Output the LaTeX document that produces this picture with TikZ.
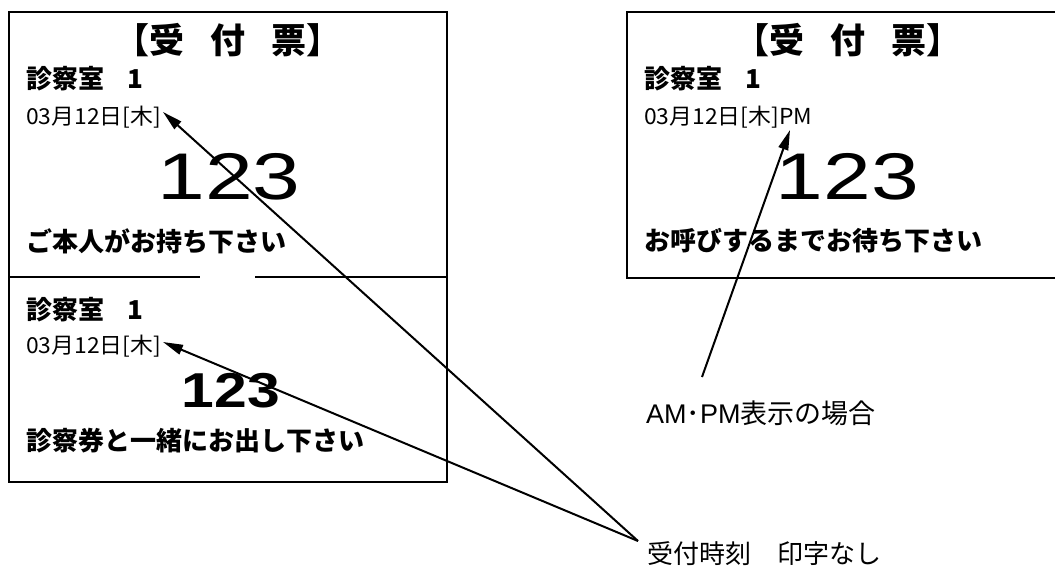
\documentclass[tikz,border=0pt]{standalone}
\usepackage{fontspec}
\usetikzlibrary{arrows.meta}
\newfontfamily\jp{Noto Sans CJK JP}
\newfontfamily\arialf{Liberation Sans}
\tikzset{
  frame/.style={line width=2pt},
  txt/.style={inner sep=0pt, anchor=west, font=\jp\fontsize{26}{30}\selectfont},
  lbl/.style={txt, font=\jp\fontsize{27}{30}\selectfont},
  txtb/.style={txt, font=\jp\bfseries\fontsize{26}{30}\selectfont},
  datetxt/.style={txt, font=\jp\fontsize{22}{25}\selectfont},
  titletxt/.style={inner sep=0pt, font=\jp\bfseries\fontsize{35}{38}\selectfont},
  bignum/.style={inner sep=0pt, font=\arialf\fontsize{66}{70}\selectfont},
  midnum/.style={inner sep=0pt, font=\arialf\bfseries\fontsize{49}{52}\selectfont},
  pointer/.style={line width=2pt, -{Triangle[length=20pt,width=10pt]}},
}
\newcommand\tgap{\hspace{0.75em}}
\begin{document}
\begin{tikzpicture}[x=1pt,y=-1pt]
\useasboundingbox (0,0) rectangle (1055,568);
% left ticket
\draw[frame] (8.5,11.5) rectangle (447,481.5);
\draw[frame] (8.5,277) -- (200,277);
\draw[frame] (255,277) -- (447,277);
% right ticket (cut at right edge)
\draw[frame] (1056,11.5) -- (627,11.5) -- (627,278) -- (1056,278);

% left upper part
\node[titletxt] (lt) at (228,40) {【受\tgap 付\tgap 票】};
\node[txtb] (lr) at (26,79) {診察室\hspace{0.9em}1};
\node[datetxt] (ld) at (26,117) {\scalebox{1.04}[1]{03月12日[木]}};
\node[bignum] (ln) at (229,177) {\scalebox{1.3}[1]{123}};
\node[txtb] (lm) at (26,241) {ご本人がお持ち下さい};
% left lower part
\node[txtb] (lr2) at (26,310) {診察室\hspace{0.9em}1};
\node[datetxt] (ld2) at (26,346) {\scalebox{1.04}[1]{03月12日[木]}};
\node[midnum] (ln2) at (231,391) {\scalebox{1.2}[1]{123}};
\node[txtb] (lm2) at (26,441) {診察券と一緒にお出し下さい};

% right ticket
\node[titletxt] (rt) at (848,40) {【受\tgap 付\tgap 票】};
\node[txtb] (rr) at (644,79) {診察室\hspace{0.9em}1};
\node[datetxt] (rd) at (644,117) {\scalebox{1.04}[1]{03月12日[木]PM}};
\node[bignum] (rn) at (847.5,177) {\scalebox{1.3}[1]{123}};
\node[txtb] (rm) at (644,241) {お呼びするまでお待ち下さい};

% labels
\node[lbl] (ampm) at (646,413) {{\arialf AM}･{\arialf PM}表示の場合};
\node[txt] (none) at (647,554) {受付時刻　印字なし};

% pointer ends
\coordinate (src) at (638,541);
\coordinate (tip1) at (163,112);
\coordinate (tip2) at (163,342);
\coordinate (src3) at (702,377);
\coordinate (tip3) at (790,130);
\draw[pointer] (src) -- (tip1);
\draw[pointer] (src) -- (tip2);
\draw[pointer] (src3) -- (tip3);
\end{tikzpicture}
\end{document}
